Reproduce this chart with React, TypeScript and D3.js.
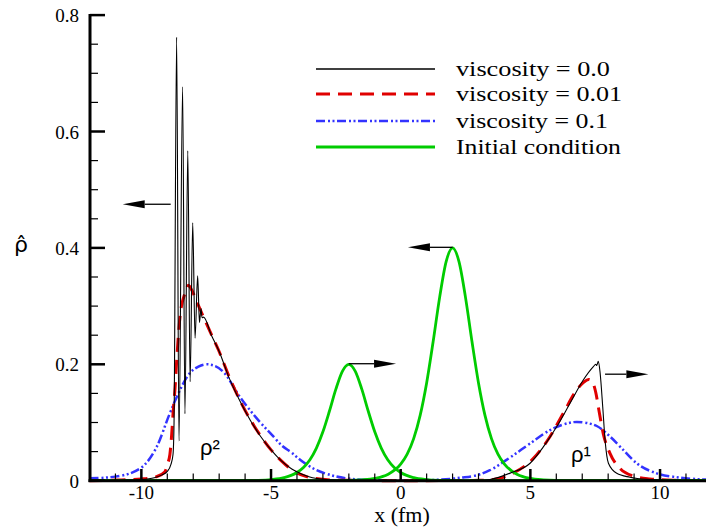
import React from "react";
import * as d3 from "d3";

type P = [number, number];

// viscosity = 0.0
const blackPts: P[] = [
  [-12, 0], [-11, 0.0005], [-10, 0.002], [-9.5, 0.005], [-9.2, 0.01], [-9.0, 0.016], [-8.86, 0.028], [-8.78, 0.045], [-8.74, 0.1],
  [-8.64, 0.762], [-8.55, 0.068], [-8.41, 0.677], [-8.32, 0.115], [-8.21, 0.567], [-8.12, 0.17], [-8.02, 0.443], [-7.93, 0.245],
  [-7.83, 0.352], [-7.76, 0.272], [-7.7, 0.296], [-7.66, 0.28],
  [-7.6, 0.281], [-7.3, 0.25], [-7.0, 0.222], [-6.6, 0.175], [-6.2, 0.137], [-5.8, 0.104], [-5.4, 0.076], [-5.0, 0.053],
  [-4.6, 0.034], [-4.2, 0.02], [-3.8, 0.011], [-3.4, 0.005], [-3.0, 0.0025], [-2.0, 0.0005], [0, 0], [3.0, 0.0005],
  [3.44, 0.002], [4.22, 0.013], [4.99, 0.03], [5.5, 0.058], [6.02, 0.093], [6.53, 0.133], [7.04, 0.173], [7.43, 0.196],
  [7.52, 0.2], [7.56, 0.198], [7.62, 0.205], [7.69, 0.185], [7.79, 0.127], [7.88, 0.07], [8.01, 0.03], [8.33, 0.0127],
  [8.84, 0.006], [9.61, 0.002], [10.5, 0.0005], [12, 0],
];

// viscosity = 0.01
const redPts: P[] = [
  [-12, 0], [-11, 0.001], [-10, 0.003], [-9.41, 0.007], [-9.1, 0.015], [-8.98, 0.03], [-8.9, 0.045], [-8.83, 0.08],
  [-8.77, 0.121], [-8.7, 0.16], [-8.64, 0.205], [-8.51, 0.282], [-8.32, 0.322], [-8.19, 0.336], [-8.0, 0.322],
  [-7.81, 0.302], [-7.61, 0.282], [-7.35, 0.256], [-7.03, 0.225], [-6.6, 0.177], [-6.2, 0.138], [-5.8, 0.105],
  [-5.4, 0.077], [-5.0, 0.053], [-4.6, 0.034], [-4.14, 0.017], [-3.63, 0.007], [-3.11, 0.003], [-2.5, 0.001], [0, 0],
  [3.0, 0.0006], [3.57, 0.002], [4.34, 0.013], [5.11, 0.038], [5.76, 0.076], [6.27, 0.116], [6.79, 0.156], [7.05, 0.169],
  [7.25, 0.174], [7.4, 0.169], [7.52, 0.152], [7.64, 0.122], [7.81, 0.081], [8.07, 0.047], [8.46, 0.021], [8.97, 0.008],
  [9.61, 0.003], [10.5, 0.0008], [12, 0],
];

// viscosity = 0.1
const bluePts: P[] = [
  [-12, 0.004], [-11, 0.007], [-10.05, 0.021], [-9.41, 0.058], [-8.9, 0.116], [-8.51, 0.156], [-8.13, 0.185], [-7.8, 0.196],
  [-7.48, 0.2], [-7.15, 0.197], [-6.84, 0.187], [-6.2, 0.144], [-5.55, 0.107], [-4.91, 0.076], [-4.6, 0.061], [-4.2, 0.048],
  [-3.88, 0.036], [-3.37, 0.021], [-2.73, 0.01], [-2.08, 0.004], [-1, 0.001], [0, 0.0005], [1, 0.001], [2.29, 0.005],
  [3.06, 0.011], [3.44, 0.018], [4.22, 0.04], [4.99, 0.064], [5.76, 0.087], [6.3, 0.097], [6.79, 0.101], [7.2, 0.099],
  [7.56, 0.094], [8.07, 0.076], [8.58, 0.053], [9.1, 0.03], [9.87, 0.0127], [10.64, 0.006], [11.54, 0.0024], [12, 0.0015],
];

// Initial condition, pulse centred at -2
const green1Pts: P[] = [
  [-12, 0], [-7, 0.00004], [-6, 0.0003], [-5.5, 0.0007], [-5, 0.002], [-4.5, 0.0053], [-4, 0.0141], [-3.75, 0.0228],
  [-3.5, 0.0361], [-3.25, 0.0561], [-3, 0.084], [-2.75, 0.1193], [-2.5, 0.1573], [-2.25, 0.188], [-2, 0.2],
  [-1.75, 0.188], [-1.5, 0.1573], [-1.25, 0.1193], [-1, 0.084], [-0.75, 0.0561], [-0.5, 0.0361], [-0.25, 0.0228],
  [0, 0.0141], [0.5, 0.0053], [1, 0.002], [1.5, 0.0007], [2, 0.0003], [3, 0.00004], [12, 0],
];

// Initial condition, pulse centred at 2
const green2Pts: P[] = [
  [-12, 0], [-3, 0.00007], [-2, 0.0005], [-1.5, 0.0015], [-1, 0.0039], [-0.5, 0.0106], [0, 0.0283], [0.25, 0.0455],
  [0.5, 0.0723], [0.75, 0.1122], [1, 0.168], [1.25, 0.2386], [1.5, 0.3146], [1.75, 0.376], [2, 0.4], [2.25, 0.376],
  [2.5, 0.3146], [2.75, 0.2386], [3, 0.168], [3.25, 0.1122], [3.5, 0.0723], [3.75, 0.0455], [4, 0.0283], [4.5, 0.0106],
  [5, 0.0039], [5.5, 0.0015], [6, 0.0005], [7, 0.00007], [12, 0],
];

// arrows: [tail, tip]
const arrows: [P, P][] = [
  [[-8.87, 0.475], [-10.72, 0.475]],
  [[-2.0, 0.201], [-0.18, 0.201]],
  [[2.0, 0.401], [0.28, 0.401]],
  [[7.88, 0.183], [9.55, 0.183]],
];

const xMajor = [-10, -5, 0, 5, 10];
const xMinor = [-11, -9, -8, -7, -6, -4, -3, -2, -1, 1, 2, 3, 4, 6, 7, 8, 9, 11];
const yMajor = [0, 0.2, 0.4, 0.6, 0.8];
const yMinor = [0.05, 0.1, 0.15, 0.25, 0.3, 0.35, 0.45, 0.5, 0.55, 0.65, 0.7, 0.75];

const legendLabels = ["viscosity = 0.0", "viscosity = 0.01", "viscosity = 0.1", "Initial condition"];

export default function App() {
  const W = 706, H = 528;
  const xs = d3.scaleLinear().domain([-12, 12]).range([89.5, 711.9]);
  const ys = d3.scaleLinear().domain([0, 0.8]).range([480.7, 15.1]);
  const line = d3.line<P>().x(d => xs(d[0])).y(d => ys(d[1])).curve(d3.curveMonotoneX);

  const serif = "'Liberation Serif', 'Times New Roman', serif";
  const sans = "'Liberation Sans', Arial, sans-serif";

  const styles = [
    { stroke: "#000000", width: 1.1, dash: undefined as string | undefined },
    { stroke: "#e00000", width: 3, dash: "14 8" },
    { stroke: "#3333ff", width: 2.5, dash: "9 3 2 2.5 2 2.5" },
    { stroke: "#00cc00", width: 2.8, dash: undefined as string | undefined },
  ];
  const legendY = [69, 94, 121, 147];
  const legendLen = [154, 166, 152, 165];

  return (
    <svg width={W} height={H} style={{ position: "absolute", left: 0, top: 0, background: "#fff" }}>
      <rect x={0} y={0} width={W} height={H} fill="#fff" />
      {/* curves */}
      <path d={line(bluePts) || ""} fill="none" stroke={styles[2].stroke} strokeWidth={styles[2].width} strokeDasharray={styles[2].dash} />
      <path d={line(redPts) || ""} fill="none" stroke={styles[1].stroke} strokeWidth={styles[1].width} strokeDasharray={styles[1].dash} />
      <path d={line(green1Pts) || ""} fill="none" stroke={styles[3].stroke} strokeWidth={styles[3].width} />
      <path d={line(green2Pts) || ""} fill="none" stroke={styles[3].stroke} strokeWidth={styles[3].width} />
      <path d={line(blackPts) || ""} fill="none" stroke={styles[0].stroke} strokeWidth={styles[0].width} strokeLinejoin="miter" />

      {/* arrows */}
      {arrows.map(([t, h], i) => {
        const x0 = xs(t[0]), y0 = ys(t[1]), x1 = xs(h[0]), y1 = ys(h[1]);
        const dir = Math.sign(x1 - x0);
        const hl = 22, hw = 4;
        const bx = x1 - dir * hl;
        return (
          <g key={i}>
            <line x1={x0} y1={y0} x2={bx} y2={y1} stroke="#000" strokeWidth={1.3} />
            <polygon points={`${x1},${y1} ${bx},${y1 - hw} ${bx},${y1 + hw}`} fill="#000" />
          </g>
        );
      })}

      {/* axes */}
      <line x1={90} y1={14} x2={90} y2={482} stroke="#000" strokeWidth={3} />
      <line x1={88.5} y1={480.7} x2={706} y2={480.7} stroke="#000" strokeWidth={3} />
      {xMajor.map(v => (
        <line key={"xM" + v} x1={xs(v)} x2={xs(v)} y1={480.7} y2={469} stroke="#000" strokeWidth={2.5} />
      ))}
      {xMinor.map(v => (
        <line key={"xm" + v} x1={xs(v)} x2={xs(v)} y1={480.7} y2={473.5} stroke="#000" strokeWidth={1.2} />
      ))}
      {yMajor.map(v => (
        <line key={"yM" + v} x1={90} x2={105} y1={ys(v)} y2={ys(v)} stroke="#000" strokeWidth={2.5} />
      ))}
      {yMinor.map(v => (
        <line key={"ym" + v} x1={90} x2={98} y1={ys(v)} y2={ys(v)} stroke="#000" strokeWidth={1.2} />
      ))}
      {xMajor.map(v => (
        <text key={"xl" + v} x={xs(v)} y={499} textAnchor="middle" fontFamily={serif} fontSize={19}>{String(v)}</text>
      ))}
      {yMajor.map(v => (
        <text key={"yl" + v} x={79} y={ys(v) + 7} textAnchor="end" fontFamily={serif} fontSize={19}>{v === 0 ? "0" : v.toFixed(1)}</text>
      ))}
      <text x={402} y={522} textAnchor="middle" fontFamily={serif} fontSize={22}>x (fm)</text>
      <text x={21} y={252} textAnchor="middle" fontFamily="'DejaVu Sans', sans-serif" fontSize={22}>ρ̂</text>

      {/* curve labels */}
      <text x={200} y={455} fontFamily={sans} fontSize={22}>ρ²</text>
      <text x={571} y={462} fontFamily={sans} fontSize={22}>ρ¹</text>

      {/* legend */}
      {legendLabels.map((lab, i) => (
        <g key={lab}>
          <line x1={316} x2={435} y1={legendY[i]} y2={legendY[i]} stroke={styles[i].stroke}
            strokeWidth={i === 0 ? 1.3 : styles[i].width} strokeDasharray={styles[i].dash} />
          <text x={456} y={legendY[i] + 7} fontFamily={serif} fontSize={22} textLength={legendLen[i]} lengthAdjust="spacingAndGlyphs">{lab}</text>
        </g>
      ))}
    </svg>
  );
}
